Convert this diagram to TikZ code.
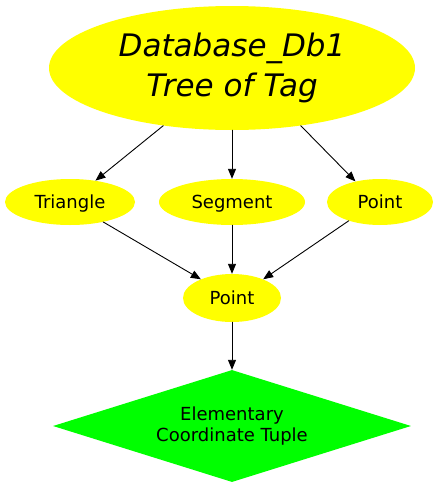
\documentclass[tikz,border=0pt]{standalone}
\usepackage{fontspec}
\setmainfont{DejaVu Sans}
\usepackage{tikz}
\usetikzlibrary{shapes.geometric}
\usetikzlibrary{arrows.meta}
\definecolor{ffff00}{rgb}{1.,1.,0.}
\definecolor{00ff00}{rgb}{0.,1.,0.}
\tikzstyle{every node}=[font=\fontsize{18}{21}\selectfont]

\begin{document}
\begin{tikzpicture}[line cap=round,line join=round,>={Triangle[length=10pt,width=8pt]},x=1pt,y=1pt,
    tagnode/.style={ellipse,fill=ffff00,inner sep=0pt,minimum height=46pt,text height=15pt,text depth=3pt},
    tuplenode/.style={diamond,aspect=3.2,fill=00ff00,inner sep=0pt,align=center,minimum width=358pt,minimum height=112pt},
    link/.style={->,line width=0.9pt}]
            \useasboundingbox (0,0) rectangle (437,-488);
            \node[ellipse,fill=ffff00,inner sep=0pt,minimum width=366pt,minimum height=124pt,align=center,font=\fontsize{31}{40}\selectfont\itshape] (db) at (232,-68) {Database\_Db1\\Tree of Tag};
            \node[tagnode,minimum width=130pt] (triangle) at (70,-202) {Triangle};
            \node[tagnode,minimum width=146pt] (segment) at (232,-202) {Segment};
            \node[tagnode,minimum width=106pt] (pointr) at (380,-202) {Point};
            \node[tagnode,minimum width=98pt,minimum height=48pt] (point) at (232,-298) {Point};
            \node[tuplenode] (tuple) at (232,-426) {Elementary\\Coordinate Tuple};
            \draw[link] (db.220) -- (triangle.40);
            \draw[link] (db.south) -- (segment.north);
            \draw[link] (db.-40) -- (pointr.140);
            \draw[link] (triangle.-31) -- (point.149);
            \draw[link] (segment.south) -- (point.north);
            \draw[link] (pointr.211) -- (point.31);
            \draw[link] (point.south) -- (tuple.north);
        \end{tikzpicture}
\end{document}
